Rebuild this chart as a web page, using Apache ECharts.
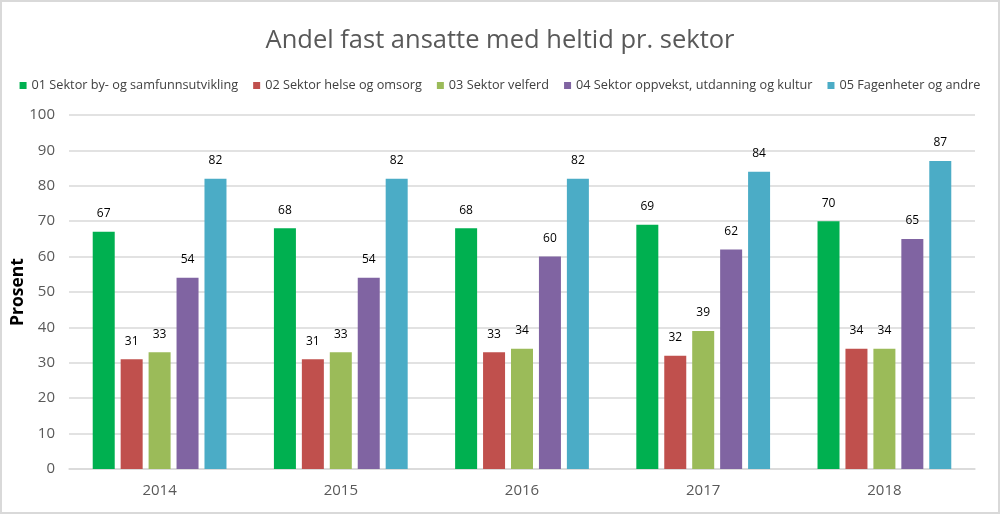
<!DOCTYPE html>
<html><head><meta charset="utf-8">
<script src="https://cdn.jsdelivr.net/npm/echarts@6/dist/echarts.min.js"></script>
<style>
html,body{margin:0;padding:0;background:#fff;}
#frame{position:absolute;left:0;top:0;width:996px;height:510px;border:2px solid #d9d9d9;}
#c{position:absolute;left:0;top:0;width:1000px;height:514px;}
</style></head>
<body><div id="frame"></div><div id="c"></div>
<script>
const categories = ['2014','2015','2016','2017','2018'];
const seriesNames = ['01 Sektor by- og samfunnsutvikling','02 Sektor helse og omsorg','03 Sektor velferd','04 Sektor oppvekst, utdanning og kultur','05 Fagenheter og andre'];
const s01 = [67,68,68,69,70];
const s02 = [31,31,33,32,34];
const s03 = [33,33,34,39,34];
const s04 = [54,54,60,62,65];
const s05 = [82,82,82,84,87];
const colors = ['#00B050','#C0504D','#9BBB59','#8064A2','#4BACC6'];
const values = [s01,s02,s03,s04,s05];
const chart = echarts.init(document.getElementById('c'));
chart.setOption({
  animation:false,
  title:{text:'Andel fast ansatte med heltid pr. sektor',left:'center',top:23,
    textStyle:{fontFamily:'Open Sans',fontSize:25.5,fontWeight:'normal',color:'#595959'}},
  legend:{top:74,left:'center',itemWidth:7,itemHeight:7,itemGap:15,icon:'rect',
    textStyle:{fontFamily:'Open Sans',fontSize:12.7,color:'#404040'},data:seriesNames},
  grid:{left:69,right:25,top:115,bottom:45,outerBoundsMode:'none',containLabel:false},
  xAxis:{type:'category',data:categories,
    axisLine:{lineStyle:{color:'#d9d9d9',width:1.5}},axisTick:{show:false},
    axisLabel:{fontFamily:'Open Sans',fontSize:15,color:'#595959',margin:14}},
  yAxis:{type:'value',min:0,max:100,interval:10,name:'Prosent',nameLocation:'middle',nameGap:42,
    nameMoveOverlap:false,
    nameTextStyle:{fontFamily:'Open Sans',fontSize:17.5,fontWeight:'bold',color:'#000'},
    axisLine:{show:false},axisTick:{show:false},
    axisLabel:{fontFamily:'Open Sans',fontSize:15,color:'#595959',margin:14},
    splitLine:{lineStyle:{color:'#d9d9d9',width:1.5}}},
  series: seriesNames.map((n,i)=>({name:n,type:'bar',data:values[i],barWidth:22,barGap:'27%',
    itemStyle:{color:colors[i]},
    label:{show:true,position:'top',distance:12,fontFamily:'Open Sans',fontSize:12,color:'#000'}}))
});
</script></body></html>
